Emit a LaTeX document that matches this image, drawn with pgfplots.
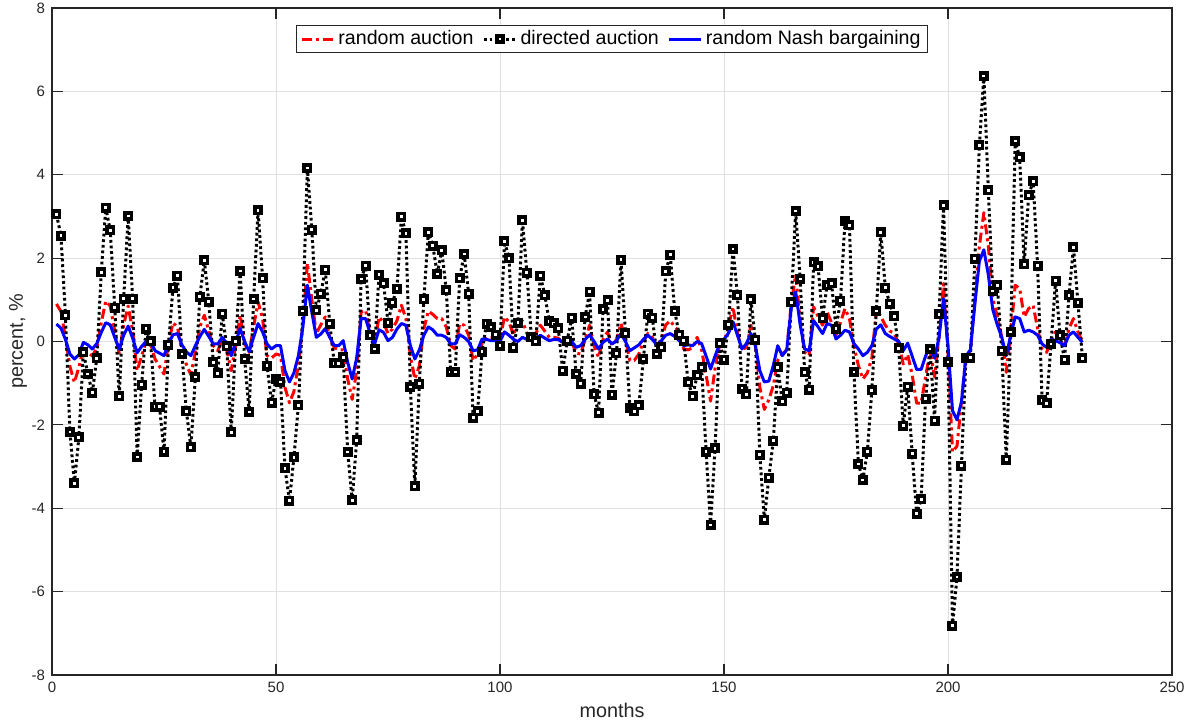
\documentclass[border=0pt]{standalone}
\usepackage{fontspec}
\setmainfont{Liberation Sans}
\usepackage{pgfplots}
\usepackage{pgfplotstable}
\pgfplotsset{compat=1.18}
\definecolor{gridc}{RGB}{224,224,224}
\definecolor{axc}{RGB}{38,38,38}
\pgfplotstableread{
m d r b
1 3.05 0.90 0.42
2 2.54 0.72 0.32
3 0.63 0.10 0.05
4 -2.17 -0.60 -0.30
5 -3.40 -0.98 -0.42
6 -2.30 -0.62 -0.32
7 -0.26 -0.15 -0.02
8 -0.78 -0.25 -0.08
9 -1.23 -0.35 -0.18
10 -0.40 -0.15 -0.05
11 1.66 0.45 0.22
12 3.21 0.97 0.45
13 2.67 0.85 0.40
14 0.81 0.25 0.10
15 -1.31 -0.28 -0.18
16 1.03 0.40 0.15
17 3.01 0.85 0.37
18 1.03 0.25 0.08
19 -2.77 -0.70 -0.27
20 -1.04 -0.35 -0.12
21 0.31 0.00 0.00
22 0.00 -0.05 0.00
23 -1.56 -0.42 -0.22
24 -1.56 -0.60 -0.28
25 -2.64 -0.78 -0.34
26 -0.08 -0.05 -0.05
27 1.29 0.45 0.16
28 1.58 0.35 0.19
29 -0.30 -0.26 -0.08
30 -1.67 -0.55 -0.25
31 -2.54 -0.80 -0.34
32 -0.85 -0.25 -0.10
33 1.07 0.35 0.12
34 1.95 0.63 0.29
35 0.95 0.25 0.12
36 -0.50 -0.10 -0.06
37 -0.76 -0.22 -0.06
38 0.67 0.05 0.10
39 -0.12 -0.20 -0.05
40 -2.18 -0.70 -0.34
41 0.00 -0.10 -0.02
42 1.69 0.63 0.31
43 -0.42 -0.05 0.00
44 -1.69 -0.26 -0.24
45 1.02 0.35 0.10
46 3.15 0.95 0.43
47 1.52 0.55 0.23
48 -0.58 -0.34 -0.06
49 -1.47 -0.40 -0.18
50 -0.90 -0.30 -0.10
51 -0.97 -0.33 -0.10
52 -3.04 -1.10 -0.70
53 -3.82 -1.47 -0.97
54 -2.78 -1.20 -0.75
55 -1.53 -0.55 -0.34
56 0.73 0.40 0.35
57 4.16 1.88 1.35
58 2.68 1.00 0.70
59 0.75 0.19 0.10
60 1.15 0.40 0.18
61 1.72 0.59 0.31
62 0.43 0.10 0.10
63 -0.52 -0.15 -0.10
64 -0.52 -0.20 -0.10
65 -0.38 -0.20 0.02
66 -2.65 -0.90 -0.50
67 -3.81 -1.39 -0.90
68 -2.37 -0.70 -0.40
69 1.50 0.71 0.55
70 1.82 0.75 0.55
71 0.15 0.20 0.20
72 -0.18 -0.06 -0.06
73 1.60 0.59 0.28
74 1.40 0.45 0.22
75 0.45 0.19 0.02
76 0.93 0.30 0.10
77 1.27 0.50 0.30
78 2.99 0.87 0.43
79 2.60 0.55 0.39
80 -1.09 -0.35 -0.10
81 -3.47 -0.90 -0.42
82 -1.01 -0.58 -0.20
83 1.01 0.30 0.15
84 2.62 0.73 0.35
85 2.30 0.65 0.28
86 1.62 0.55 0.15
87 2.19 0.55 0.15
88 1.23 0.35 0.10
89 -0.73 -0.10 -0.06
90 -0.73 -0.18 -0.06
91 1.52 0.43 0.16
92 2.10 0.39 0.10
93 1.15 0.15 0.00
94 -1.83 -0.46 -0.22
95 -1.67 -0.30 -0.20
96 -0.24 -0.05 0.06
97 0.43 0.10 0.05
98 0.35 0.10 0.02
99 0.16 0.05 0.02
100 -0.10 0.06 0.00
101 2.40 0.59 0.23
102 2.00 0.47 0.15
103 -0.15 0.15 0.05
104 0.45 0.47 0.00
105 2.91 0.50 0.10
106 1.65 0.19 0.05
107 0.10 0.10 0.02
108 0.00 0.20 0.05
109 1.58 0.39 0.15
110 1.11 0.25 0.08
111 0.48 0.10 0.02
112 0.44 0.10 0.05
113 0.32 0.08 0.05
114 -0.70 -0.05 -0.02
115 0.02 0.00 -0.06
116 0.57 0.00 0.00
117 -0.78 -0.28 -0.14
118 -1.01 -0.30 -0.10
119 0.59 0.05 0.05
120 1.19 0.39 0.16
121 -1.27 -0.10 0.00
122 -1.71 -0.38 -0.18
123 0.77 0.05 -0.02
124 0.99 0.23 0.06
125 -1.28 -0.10 -0.06
126 -0.28 0.05 0.02
127 1.96 0.43 0.19
128 0.20 0.05 0.00
129 -1.59 -0.46 -0.22
130 -1.67 -0.45 -0.15
131 -1.53 -0.30 -0.08
132 -0.42 0.00 0.05
133 0.67 0.19 0.15
134 0.57 0.10 0.05
135 -0.30 -0.10 -0.08
136 -0.14 0.05 0.02
137 1.68 0.40 0.15
138 2.08 0.50 0.19
139 0.73 0.35 0.12
140 0.16 0.23 0.02
141 0.02 -0.18 -0.10
142 -0.98 -0.20 -0.08
143 -1.31 -0.15 -0.10
144 -0.81 0.10 0.00
145 -0.62 -0.20 -0.05
146 -2.64 -0.80 -0.35
147 -4.40 -1.43 -0.66
148 -2.56 -0.65 -0.35
149 -0.04 -0.10 -0.06
150 -0.44 0.00 0.05
151 0.40 0.35 0.20
152 2.22 0.83 0.47
153 1.11 0.20 0.15
154 -1.13 -0.18 -0.18
155 -1.27 -0.15 -0.05
156 1.01 0.39 0.19
157 0.04 -0.10 -0.10
158 -2.72 -1.10 -0.70
159 -4.27 -1.63 -0.97
160 -3.27 -1.40 -0.95
161 -2.38 -1.06 -0.58
162 -0.62 -0.45 -0.10
163 -1.43 -0.30 -0.34
164 -1.23 -0.20 -0.20
165 0.94 0.90 0.80
166 3.13 1.60 1.19
167 1.50 0.50 0.40
168 -0.74 -0.26 -0.18
169 -1.16 -0.34 -0.22
170 1.90 0.83 0.50
171 1.80 0.60 0.35
172 0.56 0.39 0.19
173 1.35 0.71 0.43
174 1.40 0.45 0.39
175 0.31 0.15 0.06
176 0.98 0.45 0.15
177 2.89 0.79 0.27
178 2.79 0.55 0.23
179 -0.73 -0.10 -0.05
180 -2.94 -0.58 -0.18
181 -3.32 -0.90 -0.34
182 -2.64 -0.75 -0.26
183 -1.17 -0.40 -0.10
184 0.73 0.79 0.30
185 2.62 0.60 0.40
186 1.29 0.39 0.19
187 0.91 0.25 0.12
188 0.60 0.20 0.06
189 -0.16 -0.05 0.00
190 -2.02 -0.54 -0.22
191 -1.08 -0.31 -0.04
192 -2.69 -0.80 -0.35
193 -4.13 -1.48 -0.67
194 -3.79 -1.48 -0.67
195 -1.37 -0.85 -0.35
196 -0.18 -0.22 -0.09
197 -1.90 -0.85 -0.40
198 0.65 0.10 0.10
199 3.27 1.39 1.03
200 -0.49 -0.30 -0.10
201 -6.82 -2.65 -1.66
202 -5.65 -2.51 -1.88
203 -2.98 -1.45 -1.45
204 -0.40 -0.35 -0.35
205 -0.39 -0.22 -0.20
206 1.99 1.00 0.90
207 4.71 2.29 1.93
208 6.37 3.09 2.20
209 3.63 2.29 1.60
210 1.21 1.03 0.76
211 1.35 0.60 0.40
212 -0.22 0.10 0.10
213 -2.84 -0.74 -0.34
214 0.23 0.20 0.15
215 4.81 1.35 0.59
216 4.42 1.27 0.55
217 1.85 0.59 0.23
218 3.51 0.79 0.27
219 3.84 0.87 0.23
220 1.82 0.31 0.15
221 -1.41 -0.18 -0.06
222 -1.48 -0.26 -0.14
223 -0.06 0.00 0.05
224 1.46 0.23 0.02
225 0.15 0.06 -0.03
226 -0.44 -0.14 -0.10
227 1.11 0.31 0.15
228 2.26 0.55 0.23
229 0.93 0.23 0.10
230 -0.40 0.00 -0.02
}\data
\begin{document}
\begin{tikzpicture}
\begin{axis}[
  name=ax,
  scale only axis,
  width=560pt, height=333.5pt,
  xmin=0, xmax=250, ymin=-8, ymax=8,
  xtick={0,50,100,150,200,250},
  ytick={-8,-6,-4,-2,0,2,4,6,8},
  grid=major,
  major grid style={color=gridc, line width=0.5pt},
  axis line style={color=axc, line width=0.6pt},
  tick align=inside,
  major tick length=5.5pt,
  tick style={color=axc, line width=0.6pt},
  ticklabel style={font=\fontsize{7.5}{9}\selectfont, color=axc},
  /pgf/number format/assume math mode=true,
  xlabel={months},
  ylabel={percent, \%},
  label style={font=\fontsize{9.9}{12}\selectfont, color=axc},
  xlabel style={at={([yshift=-17.5pt]axis description cs:0.5,0)}, anchor=center},
  ylabel style={at={([xshift=-17pt]axis description cs:0,0.5)}, anchor=center},
  legend columns=3,
  legend cell align=left,
  legend style={at={(axis description cs:0.5,1)}, anchor=north, yshift=-8.5pt,
    draw=axc, line width=0.5pt, fill=white, text=black,
    font=\fontsize{9.8}{11}\selectfont,
    inner xsep=2pt, inner ysep=1pt,
    nodes={inner sep=1.5pt},
    /tikz/every even column/.append style={column sep=3pt}},
  legend image code/.code={\draw[mark repeat=2,mark phase=2,#1] plot coordinates {(0pt,0pt) (8pt,0pt) (16pt,0pt)};},
]
\addplot[color=red, line width=1.5pt, line join=round, dash pattern=on 5pt off 2pt on 1.5pt off 2pt] table[x=m,y=r] {\data};
\addlegendentry{random auction}
\addplot[color=black, line width=1.5pt, line join=round, dash pattern=on 1.4pt off 1.4pt, mark=square*, mark size=1.6pt, mark options={solid, fill=white, draw=black, line width=1.8pt, line join=miter}] table[x=m,y=d] {\data};
\addlegendentry{directed auction}
\addplot[color=blue, line width=1.5pt, line join=round] table[x=m,y=b] {\data};
\addlegendentry{random Nash bargaining}
\end{axis}
\pgfresetboundingbox
\path ([xshift=-26pt,yshift=-23pt]ax.south west) rectangle ([xshift=6.5pt,yshift=4pt]ax.north east);
\end{tikzpicture}
\end{document}
